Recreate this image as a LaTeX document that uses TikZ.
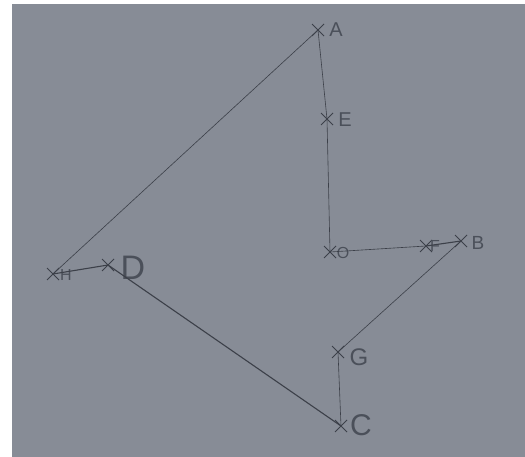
\documentclass[tikz,border=0pt]{standalone}
\usepackage{fontspec}
\setmainfont{Liberation Sans}
\usetikzlibrary{shapes.misc}
\definecolor{paper}{HTML}{878C96}
\definecolor{pencil}{HTML}{3C4049}
\definecolor{lettering}{HTML}{4B505A}
\tikzset{
  pt/.style={cross out, draw=pencil, line width=1pt, minimum size=11pt, inner sep=0pt},
  lab/.style={text=lettering, font=\fontsize{20}{20}\selectfont, inner sep=0pt},
  smalllab/.style={text=lettering, font=\fontsize{16}{16}\selectfont, inner sep=0pt},
  edge/.style={draw=pencil, line width=0.6pt},
  thickedge/.style={draw=pencil, line width=1.1pt}
}
\begin{document}
\begin{tikzpicture}[x=1pt,y=-1pt]
\useasboundingbox (0,0) rectangle (525,457);
\fill[white] (0,0) rectangle (525,457);
\fill[paper] (12,4) rectangle (525,457);
% points
\node[pt] (A) at (318,30) {};
\node[pt] (E) at (327,119) {};
\node[pt] (O) at (330,252) {};
\node[pt] (F) at (426,246) {};
\node[pt] (B) at (461,241) {};
\node[pt] (G) at (338,352) {};
\node[pt] (C) at (341,426) {};
\node[pt] (D) at (108,265) {};
\node[pt] (H) at (53,274) {};
% labels
\node[lab] (lA) at (336,30) {A};
\node[lab] (lE) at (345,120) {E};
\node[smalllab] (lO) at (343,253) {O};
\node[smalllab] (lF) at (435,246) {F};
\node[lab, font=\fontsize{19}{19}\selectfont] (lB) at (478,243) {B};
\node[lab, font=\fontsize{24}{24}\selectfont] (lG) at (359,357) {G};
\node[lab, font=\fontsize{30}{30}\selectfont] (lC) at (361,425) {C};
\node[lab, font=\fontsize{34}{34}\selectfont] (lD) at (133,268) {D};
\node[smalllab] (lH) at (66,275) {H};
% connectors
\draw[edge] (A.center) -- (E.center);
\draw[edge] (E.center) -- (O.center);
\draw[edge] (O.center) -- (F.center);
\draw[thickedge] (F.center) -- (B.center);
\draw[edge] (B.center) -- (G.center);
\draw[edge] (G.center) -- (C.center);
\draw[thickedge] (C.center) -- (D.center);
\draw[thickedge] (D.center) -- (H.center);
\draw[edge] (H.center) -- (A.center);
\end{tikzpicture}
\end{document}
